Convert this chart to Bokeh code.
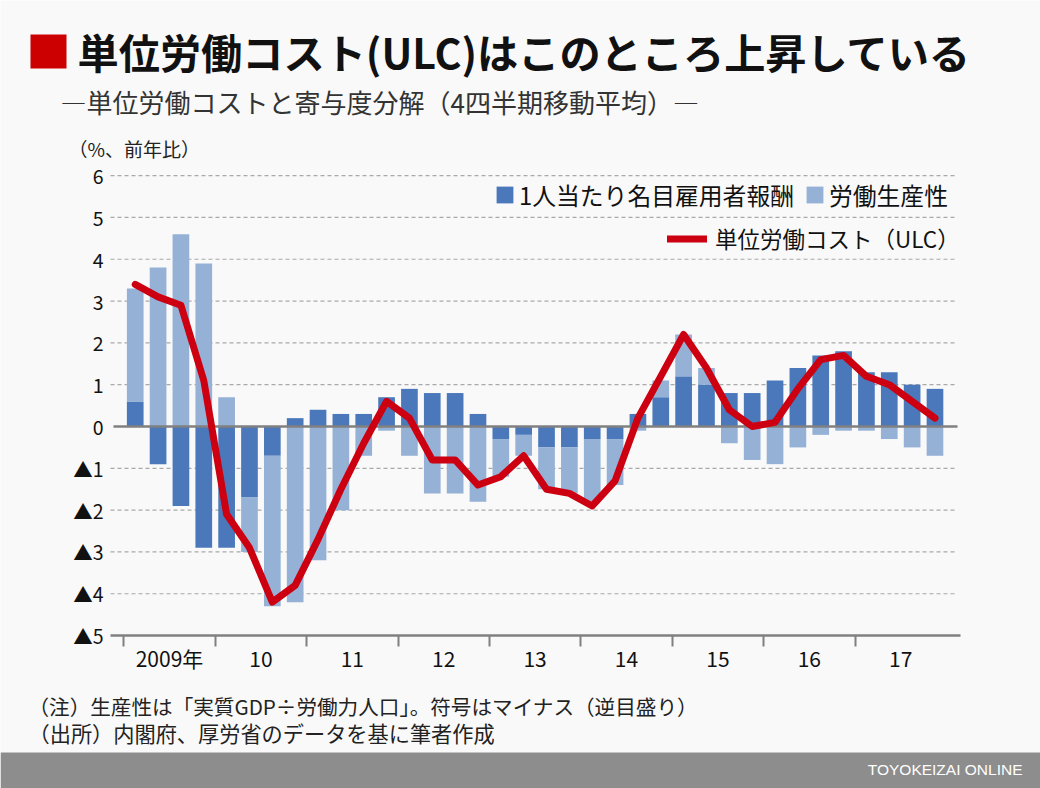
from bokeh.plotting import figure
from bokeh.models import (ColumnDataSource, FixedTicker, LinearAxis, Label, Legend,
                          LegendItem, Range1d, BoxAnnotation)
from bokeh.embed import file_html
from bokeh.resources import INLINE

# ---- data: quarterly, 2009Q1 .. 2017Q4 (4-quarter moving average, % y/y) ----
year_labels = ["2009年", "10", "11", "12", "13", "14", "15", "16", "17"]

compensation = [0.6, -0.9, -1.9, -2.9,
                -2.9, -1.7, -0.7, 0.2,
                0.4, 0.3, 0.3, 0.7,
                0.9, 0.8, 0.8, 0.3,
                -0.3, -0.2, -0.5, -0.5,
                -0.3, -0.3, 0.3, 0.7,
                1.2, 1.0, 0.8, 0.8,
                1.1, 1.4, 1.7, 1.8,
                1.3, 1.3, 1.0, 0.9]

productivity = [2.7, 3.8, 4.6, 3.9,
                0.7, -1.3, -3.6, -4.2,
                -3.2, -2.0, -0.7, -0.1,
                -0.7, -1.6, -1.6, -1.8,
                -0.9, -0.5, -1.0, -1.1,
                -1.5, -1.1, -0.1, 0.4,
                1.0, 0.4, -0.4, -0.8,
                -0.9, -0.5, -0.2, -0.1,
                -0.1, -0.3, -0.5, -0.7]

ulc = [3.4, 3.1, 2.9, 1.1,
       -2.1, -2.9, -4.2, -3.8,
       -2.7, -1.5, -0.4, 0.6,
       0.2, -0.8, -0.8, -1.4,
       -1.2, -0.7, -1.5, -1.6,
       -1.9, -1.3, 0.2, 1.2,
       2.2, 1.4, 0.4, 0.0,
       0.1, 0.9, 1.6, 1.7,
       1.2, 1.0, 0.6, 0.2]

y_ticks = list(range(-5, 7))

# ---- styling ----
BG = "#f9f9f9"
DARK = "#4a78ba"
LIGHT = "#95b1d6"
RED = "#cc0011"
GRID = "#a9a9a9"
AXIS = "#808080"
FOOT = "#8d8d8d"
JP = "Noto Sans CJK JP"
TXT = "#111111"

W, H = 1040, 788
# The canvas is one large frame; the chart area is positioned through the ranges.
# Chart area: x from 110px to 957px, y value 6 at 175px and -5 at 635px.
PX_Q = 22.85          # pixels per quarter
Q0 = 123.3            # pixel position of the 2009 start
PX_V = 460 / 11       # pixels per percentage point
V0 = 426              # pixel position of zero
x_range = Range1d(-Q0 / PX_Q, (W - Q0) / PX_Q)
y_range = Range1d(-(H - V0) / PX_V, V0 / PX_V)
X_LO, X_HI = (110 - Q0) / PX_Q, (957 - Q0) / PX_Q
Y_LO, Y_HI = -5, 6

# stacked bar extents: productivity stacks on compensation when signs agree
n = len(compensation)
xs = [i + 0.5 for i in range(n)]
pb, pt = [], []
for c, q in zip(compensation, productivity):
    base = c if (c >= 0) == (q >= 0) else 0.0
    pb.append(base)
    pt.append(base + q)

src = ColumnDataSource(dict(x=xs, cb=[0.0] * n, ct=compensation, pb=pb, pt=pt, ulc=ulc))

p = figure(width=W, height=H, x_range=x_range, y_range=y_range,
           output_backend="svg", toolbar_location=None,
           x_axis_location=None, y_axis_location=None, min_border=0,
           background_fill_color=BG, border_fill_color=BG, outline_line_color=None)
p.xgrid.visible = False
p.ygrid.visible = False

# dashed horizontal guides across the chart area
grid_vals = [t for t in y_ticks if t not in (0, Y_LO)]
p.segment(x0=[X_LO] * len(grid_vals), x1=[X_HI] * len(grid_vals), y0=grid_vals, y1=grid_vals,
          line_color=GRID, line_dash="4 3", line_width=1.2, level="underlay")

dark_r = p.vbar(x="x", width=0.73, bottom="cb", top="ct", source=src,
                fill_color=DARK, line_color=None)
light_r = p.vbar(x="x", width=0.73, bottom="pb", top="pt", source=src,
                 fill_color=LIGHT, line_color=None)

# zero line
p.segment(x0=[X_LO + 0.13], x1=[X_HI], y0=[0], y1=[0], line_color=AXIS, line_width=2.5)

line_r = p.line(x="x", y="ulc", source=src, line_color=RED, line_width=7,
                line_join="round", line_cap="round")

# y axis: ▲ marks negative values
overrides = {t: (f"▲{-t}" if t < 0 else str(t)) for t in y_ticks}
yaxis = LinearAxis(ticker=FixedTicker(ticks=y_ticks), major_label_overrides=overrides,
                   fixed_location=X_LO, bounds=(Y_LO, Y_HI),
                   axis_line_color=None, major_tick_line_color=None, minor_tick_line_color=None,
                   major_tick_out=0, major_tick_in=0, major_label_standoff=7,
                   major_label_text_font=JP, major_label_text_font_size="19.5px",
                   major_label_text_color=TXT)
p.add_layout(yaxis, "left")

# x axis: year labels at the centre of each year, tick marks at year boundaries
year_pos = [4 * k + 2 for k in range(9)]
year_edges = [4 * k for k in range(9)]
xaxis = LinearAxis(ticker=FixedTicker(ticks=year_pos, minor_ticks=year_edges),
                   fixed_location=Y_LO, bounds=(X_LO, X_HI + 0.13),
                   major_label_overrides=dict(zip(year_pos, year_labels)),
                   axis_line_color=AXIS, axis_line_width=2.5,
                   major_tick_line_color=None, major_tick_out=0, major_tick_in=0,
                   minor_tick_line_color=AXIS, minor_tick_line_width=2,
                   minor_tick_out=11, minor_tick_in=0,
                   major_label_standoff=-4, major_label_text_font=JP,
                   major_label_text_font_size="21px", major_label_text_color=TXT)
p.add_layout(xaxis, "below")

# legends
leg_common = dict(orientation="horizontal", padding=0, margin=0, border_line_color=None,
                  background_fill_alpha=0, label_text_font=JP,
                  label_text_color=TXT, glyph_height=21, label_height=21)
leg1 = Legend(items=[LegendItem(label="1人当たり名目雇用者報酬", renderers=[dark_r]),
                     LegendItem(label="労働生産性", renderers=[light_r])],
              location=(494, H - 212), glyph_width=21, label_text_font_size="23.8px",
              label_standoff=4, spacing=10, **leg_common)
leg2 = Legend(items=[LegendItem(label="単位労働コスト（ULC）", renderers=[line_r])],
              location=(667, H - 254), glyph_width=40, label_text_font_size="22.5px",
              label_standoff=8, **leg_common)
p.add_layout(leg1)
p.add_layout(leg2)


def put(cx, cy, text, size, style="normal", color=TXT, align="left", font=JP):
    """Place a text label at canvas position (cx, cy) measured from the top-left."""
    p.add_layout(Label(x=cx, y=H - cy, x_units="screen", y_units="screen",
                       text=text, text_font=font, text_font_size=f"{size}px",
                       text_font_style=style, text_color=color, text_align=align,
                       text_baseline="middle"))


# heading marker and footer band
p.add_layout(BoxAnnotation(left=30, right=66, top=H - 34, bottom=H - 68,
                           left_units="screen", right_units="screen",
                           top_units="screen", bottom_units="screen",
                           fill_color="#cc0000", fill_alpha=1, line_color=None))
p.add_layout(BoxAnnotation(left=0, right=W, top=36, bottom=0,
                           left_units="screen", right_units="screen",
                           top_units="screen", bottom_units="screen",
                           fill_color=FOOT, fill_alpha=1, line_color=None))

put(77, 50, "単位労働コスト(ULC)はこのところ上昇している", 41.2, style="bold")
put(60, 101, "―単位労働コストと寄与度分解（4四半期移動平均）―", 26, color="#333333")
put(68, 148, "（%、前年比）", 19, color="#222222")
put(28, 705, "（注）生産性は「実質GDP÷労働力人口」。符号はマイナス（逆目盛り）", 20.6, color="#222222")
put(28, 732, "（出所）内閣府、厚労省のデータを基に筆者作成", 21.2, color="#222222")
put(1022, 769, "TOYOKEIZAI ONLINE", 15.5, color="white", align="right", font="Liberation Sans")

open("out.html", "w").write(file_html(p, INLINE))
